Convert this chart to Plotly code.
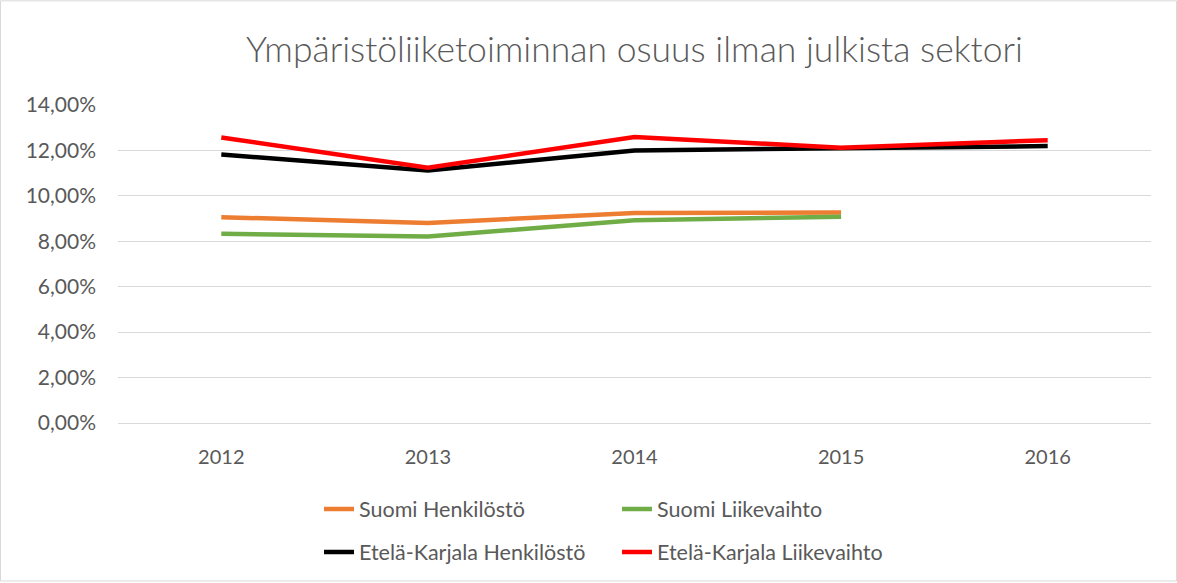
import plotly.graph_objects as go

years = ["2012", "2013", "2014", "2015", "2016"]
suomi_henkilosto = [9.06, 8.81, 9.24, 9.27]
suomi_liikevaihto = [8.33, 8.21, 8.93, 9.08]
ek_henkilosto = [11.82, 11.12, 12.00, 12.10, 12.19]
ek_liikevaihto = [12.57, 11.24, 12.59, 12.12, 12.45]
yticks = [0, 2, 4, 6, 8, 10, 12, 14]
ytick_labels = [f"{v:.2f}".replace(".", ",") + "%" for v in yticks]

W, H = 1177, 583
L, R, T, B = 118, 26, 105, 159
pw, ph = W - L - R, H - T - B

fig = go.Figure()
series = [
    ("Suomi Henkilöstö", years[:4], suomi_henkilosto, "#ED7D31", "legend"),
    ("Suomi Liikevaihto", years[:4], suomi_liikevaihto, "#70AD47", "legend"),
    ("Etelä-Karjala Henkilöstö", years, ek_henkilosto, "#000000", "legend2"),
    ("Etelä-Karjala Liikevaihto", years, ek_liikevaihto, "#FF0000", "legend2"),
]
for name, xs, ys, col, lg in series:
    fig.add_trace(go.Scatter(x=xs, y=ys, mode="lines", name=name,
                             line=dict(color=col, width=4.5), legend=lg))

font_fam = "Lato, Liberation Sans, sans-serif"
gray = "#595959"
legend_common = dict(orientation="h", xanchor="left", yanchor="middle",
                     entrywidth=253, entrywidthmode="pixels",
                     font=dict(family=font_fam, size=21.5, color=gray),
                     bgcolor="rgba(0,0,0,0)", itemwidth=30, tracegroupgap=0)

fig.update_layout(
    width=W, height=H,
    margin=dict(l=L, r=R, t=T, b=B, pad=0),
    paper_bgcolor="white", plot_bgcolor="white",
    title=dict(text="Ympäristöliiketoiminnan osuus ilman julkista sektori",
               x=0.5, xref="paper", xanchor="center", y=1 - 50 / H, yanchor="middle",
               font=dict(family=font_fam, size=35.5, color=gray, weight=300)),
    xaxis=dict(type="category", range=[-0.5, 4.5], showgrid=False,
               showline=False, zeroline=False, ticks="",
               tickfont=dict(family=font_fam, size=20, color=gray), ticklabelstandoff=20),
    yaxis=dict(range=[0, 14], tickvals=yticks, ticktext=ytick_labels,
               showgrid=True, gridcolor="#D9D9D9", gridwidth=1.3, zeroline=True,
               zerolinecolor="#D9D9D9", zerolinewidth=1.3, showline=False, ticks="",
               tickfont=dict(family=font_fam, size=21, color=gray), ticklabelstandoff=21),
    legend=dict(x=(319 - L) / pw, y=(T + ph - 509) / ph, **legend_common),
    legend2=dict(x=(319 - L) / pw, y=(T + ph - 552) / ph, **legend_common),
    shapes=[dict(type="rect", xref="paper", yref="paper",
                 x0=(0.5 - L) / pw, x1=(W - 0.5 - L) / pw,
                 y0=(T + ph - (H - 0.5)) / ph, y1=(T + ph - 0.5) / ph,
                 line=dict(color="#D9D9D9", width=1), fillcolor="rgba(0,0,0,0)", layer="below")],
    showlegend=True,
)

fig.write_html("out.html", config={"displayModeBar": False},
               post_script="document.body.style.margin='0';document.body.style.overflow='hidden';")
